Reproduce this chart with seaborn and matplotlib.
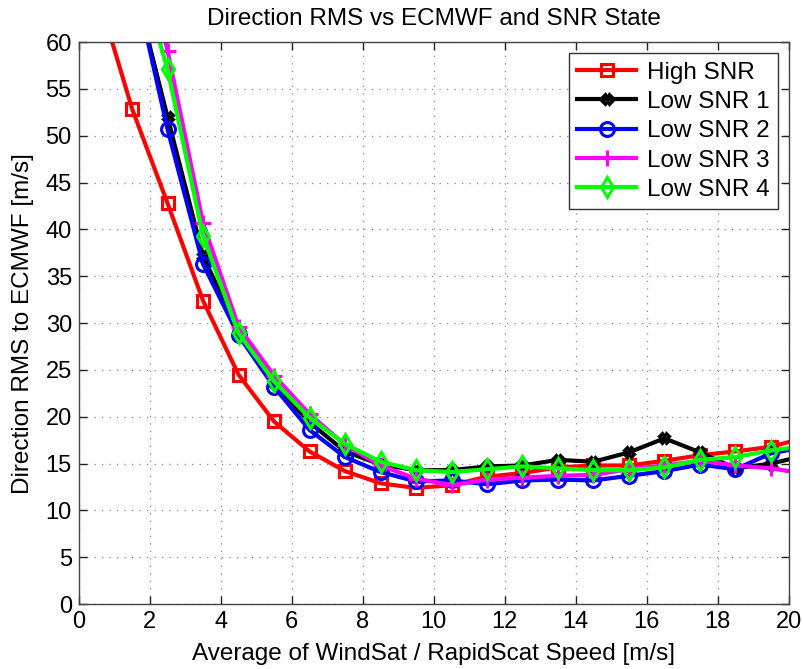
import matplotlib
matplotlib.use("Agg")
import matplotlib.pyplot as plt
import seaborn as sns
import numpy as np
import pandas as pd
from matplotlib.ticker import MultipleLocator

speed = [0.5, 1.5, 2.5, 3.5, 4.5, 5.5, 6.5, 7.5, 8.5, 9.5, 10.5, 11.5,
         12.5, 13.5, 14.5, 15.5, 16.5, 17.5, 18.5, 19.5, 20.5]

high_snr = [65.6, 52.9, 42.8, 32.4, 24.5, 19.5, 16.3, 14.2, 12.9, 12.4, 12.7, 13.6,
            14.0, 14.6, 14.8, 14.8, 15.3, 15.9, 16.3, 16.8, 17.8]
low_snr1 = [None, 67.1, 52.0, 37.2, 29.0, 23.6, 19.4, 16.3, 14.9, 14.3, 14.3, 14.7,
            14.8, 15.4, 15.2, 16.2, 17.7, 16.2, 14.5, 15.0, 15.9]
low_snr2 = [None, 67.6, 50.7, 36.3, 28.7, 23.2, 18.6, 15.7, 14.1, 13.1, 13.2, 12.8,
            13.2, 13.3, 13.2, 13.7, 14.2, 14.9, 14.4, 16.1, 16.8]
low_snr3 = [None, 75.0, 59.1, 40.7, 29.6, 24.4, 20.3, 17.0, 14.8, 13.4, 12.7, 13.3,
            13.5, 13.7, 13.8, 14.4, 14.8, 15.3, 14.8, 14.5, 13.9]
low_snr4 = [None, 70.3, 57.1, 39.3, 28.9, 23.8, 19.9, 17.1, 15.2, 14.3, 14.1, 14.4,
            14.7, 14.5, 14.3, 14.3, 14.6, 15.4, 15.7, 16.4, 16.9]

names = ["High SNR", "Low SNR 1", "Low SNR 2", "Low SNR 3", "Low SNR 4"]
series = [high_snr, low_snr1, low_snr2, low_snr3, low_snr4]
colors = ["#ff0000", "#000000", "#0000ff", "#ff00ff", "#00ff00"]
markers = ["s", "X", "o", "+", "d"]
msizes = [9, 6.5, 10, 12, 10]

plt.rcParams['font.family'] = ['Liberation Sans', 'DejaVu Sans']

fig = plt.figure(figsize=(8.04, 6.69), dpi=100)
ax = fig.add_axes([0.098, 0.097, 0.883, 0.840])

for name, vals, c, m, ms in zip(names, series, colors, markers, msizes):
    df = pd.DataFrame({"speed": speed, "rms": vals}).dropna()
    sns.lineplot(data=df, x="speed", y="rms", ax=ax, color=c, marker=m,
                 markersize=ms, markerfacecolor="none", markeredgecolor=c,
                 markeredgewidth=2.2, linewidth=3, label=name, sort=False)

ax.set_xlim(0, 20)
ax.set_ylim(0, 60)
ax.xaxis.set_major_locator(MultipleLocator(2))
ax.yaxis.set_major_locator(MultipleLocator(5))
ax.grid(True, linestyle=(0, (1, 5)), color="#888888", linewidth=0.9)
ax.tick_params(direction="in", top=True, right=True, labelsize=17, length=6,
               width=1, colors="#222222", labelcolor="black", pad=5)
for s in ax.spines.values():
    s.set_color("#444444")
    s.set_linewidth(1)

ax.set_title("Direction RMS vs ECMWF and SNR State", fontsize=17.5, pad=12)
ax.set_xlabel("Average of WindSat / RapidScat Speed [m/s]", fontsize=17.5, labelpad=7)
ax.set_ylabel("Direction RMS to ECMWF [m/s]", fontsize=17.5, labelpad=8)

leg = ax.legend(loc="upper right", fontsize=17.5, frameon=True, fancybox=False,
                edgecolor="#333333", framealpha=1, handlelength=2.4,
                borderaxespad=0.45, labelspacing=0.3, handletextpad=0.45,
                borderpad=0.35)
leg.get_frame().set_linewidth(1)

fig.savefig("out.png", dpi=100)
